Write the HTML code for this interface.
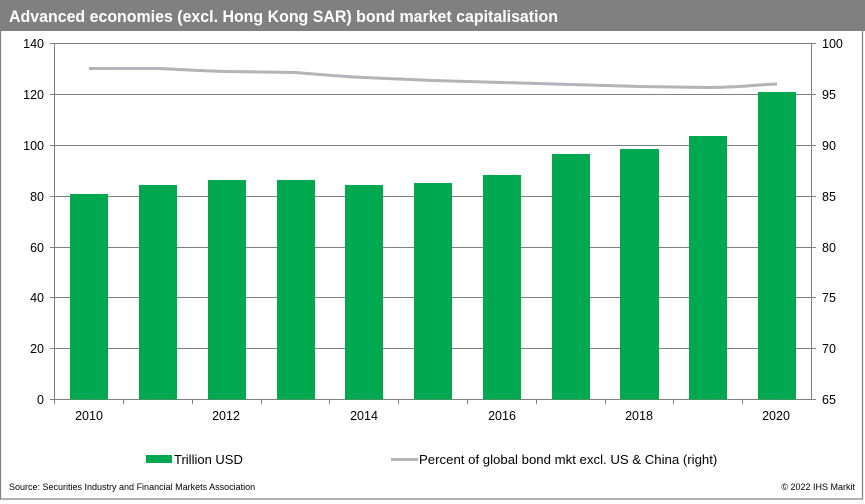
<!DOCTYPE html>
<html><head><meta charset="utf-8"><style>
html,body{margin:0;padding:0;background:#fff;}
svg{display:block;font-family:"Liberation Sans",Arial,sans-serif;}
</style></head><body>
<svg width="865" height="504" viewBox="0 0 865 504" xmlns="http://www.w3.org/2000/svg">
<rect x="0" y="0" width="865" height="504" fill="#fff"/>
<rect x="0.5" y="0.5" width="862" height="498.5" fill="none" stroke="#808080" stroke-width="1.2"/>
<rect x="0" y="0" width="865" height="31" fill="#808080"/>
<text x="9" y="22" fill="#fff" font-size="16.5" font-weight="bold" textLength="549" lengthAdjust="spacingAndGlyphs">Advanced economies (excl. Hong Kong SAR) bond market capitalisation</text>
<g stroke="#808080" stroke-width="1">
<line x1="54" y1="43.5" x2="812" y2="43.5"/>
<line x1="54" y1="94.5" x2="812" y2="94.5"/>
<line x1="54" y1="145.5" x2="812" y2="145.5"/>
<line x1="54" y1="196.5" x2="812" y2="196.5"/>
<line x1="54" y1="247.5" x2="812" y2="247.5"/>
<line x1="54" y1="297.5" x2="812" y2="297.5"/>
<line x1="54" y1="348.5" x2="812" y2="348.5"/>
<line x1="54" y1="399.5" x2="816" y2="399.5"/>
<line x1="54.5" y1="43" x2="54.5" y2="400"/>
<line x1="811.5" y1="43" x2="811.5" y2="400"/>
<line x1="50" y1="43.5" x2="54" y2="43.5"/><line x1="50" y1="94.5" x2="54" y2="94.5"/><line x1="50" y1="145.5" x2="54" y2="145.5"/><line x1="50" y1="196.5" x2="54" y2="196.5"/><line x1="50" y1="247.5" x2="54" y2="247.5"/><line x1="50" y1="297.5" x2="54" y2="297.5"/><line x1="50" y1="348.5" x2="54" y2="348.5"/><line x1="50" y1="399.5" x2="54" y2="399.5"/>
<line x1="812" y1="43.5" x2="816" y2="43.5"/><line x1="812" y1="94.5" x2="816" y2="94.5"/><line x1="812" y1="145.5" x2="816" y2="145.5"/><line x1="812" y1="196.5" x2="816" y2="196.5"/><line x1="812" y1="247.5" x2="816" y2="247.5"/><line x1="812" y1="297.5" x2="816" y2="297.5"/><line x1="812" y1="348.5" x2="816" y2="348.5"/>
<line x1="123.5" y1="400" x2="123.5" y2="404"/><line x1="192.5" y1="400" x2="192.5" y2="404"/><line x1="261.5" y1="400" x2="261.5" y2="404"/><line x1="329.5" y1="400" x2="329.5" y2="404"/><line x1="398.5" y1="400" x2="398.5" y2="404"/><line x1="467.5" y1="400" x2="467.5" y2="404"/><line x1="536.5" y1="400" x2="536.5" y2="404"/><line x1="605.5" y1="400" x2="605.5" y2="404"/><line x1="673.5" y1="400" x2="673.5" y2="404"/><line x1="742.5" y1="400" x2="742.5" y2="404"/><line x1="54.5" y1="400" x2="54.5" y2="404"/>
</g>
<g fill="#00a94f">
<rect x="70" y="194" width="38" height="205.5"/>
<rect x="139" y="185" width="38" height="214.5"/>
<rect x="208" y="180" width="38" height="219.5"/>
<rect x="277" y="180" width="38" height="219.5"/>
<rect x="345" y="185" width="38" height="214.5"/>
<rect x="414" y="183" width="38" height="216.5"/>
<rect x="483" y="175" width="38" height="224.5"/>
<rect x="552" y="154" width="38" height="245.5"/>
<rect x="620" y="149" width="39" height="250.5"/>
<rect x="689" y="136" width="38" height="263.5"/>
<rect x="758" y="92" width="38" height="307.5"/>
</g>
<path d="M89,68.5 L158,68.5 C180,69.5 205,71 226,71.5 L295,72.5 C320,74.5 340,76.5 364,77.5 L433,80.5 L502,82.5 L571,84.5 L639,86.5 L708,87.5 C740,87.5 760,84.5 777,84" fill="none" stroke="#b3b3b8" stroke-width="3"/>
<g font-size="12.5" fill="#000" text-anchor="end">
<text x="44" y="48">140</text><text x="44" y="99">120</text><text x="44" y="150">100</text><text x="44" y="201">80</text><text x="44" y="252">60</text><text x="44" y="302">40</text><text x="44" y="353">20</text><text x="44" y="404">0</text>
</g>
<g font-size="12.5" fill="#000">
<text x="822" y="48">100</text><text x="822" y="99">95</text><text x="822" y="150">90</text><text x="822" y="201">85</text><text x="822" y="252">80</text><text x="822" y="302">75</text><text x="822" y="353">70</text><text x="822" y="404">65</text>
</g>
<g font-size="12.5" fill="#000" text-anchor="middle">
<text x="89" y="420">2010</text><text x="226" y="420">2012</text><text x="364" y="420">2014</text><text x="502" y="420">2016</text><text x="639" y="420">2018</text><text x="776" y="420">2020</text>
</g>
<rect x="146" y="455" width="26" height="8" fill="#00a94f"/>
<text x="174" y="464" font-size="13" fill="#000">Trillion USD</text>
<line x1="391" y1="459.5" x2="418" y2="459.5" stroke="#b3b3b8" stroke-width="3"/>
<text x="419" y="464" font-size="13.2" fill="#000">Percent of global bond mkt excl. US &amp; China (right)</text>
<text x="9" y="490" font-size="9" fill="#000">Source: Securities Industry and Financial Markets Association</text>
<text x="855" y="490" font-size="9" fill="#000" text-anchor="end">© 2022  IHS Markit</text>
</svg>
</body></html>
